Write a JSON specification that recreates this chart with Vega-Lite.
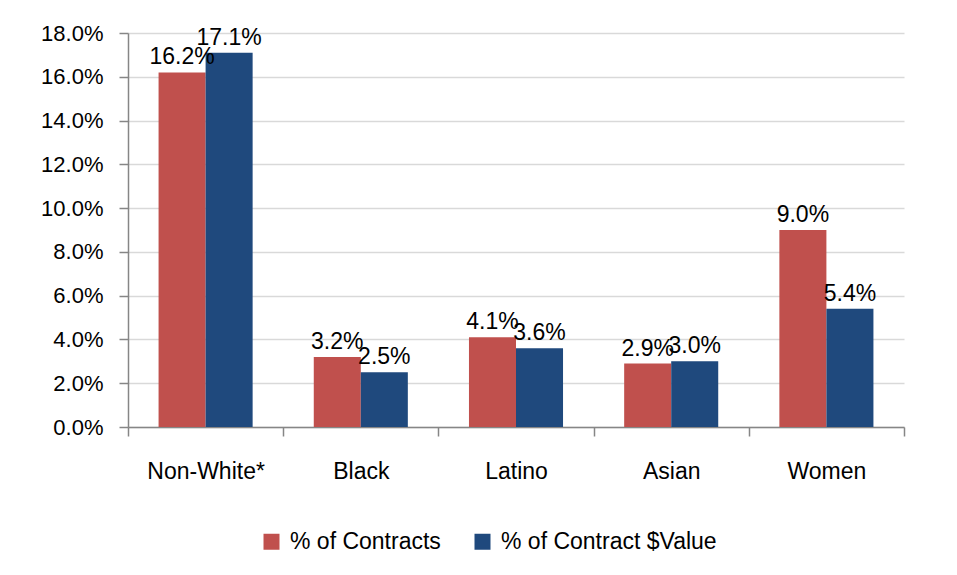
{
  "$schema": "https://vega.github.io/schema/vega-lite/v6.json",
  "width": 776,
  "height": 394,
  "autosize": {"type": "none"},
  "padding": {"left": 128, "top": 33, "right": 53, "bottom": 148},
  "background": "white",
  "config": {
    "font": "Liberation Sans",
    "view": {"stroke": null},
    "axis": {"labelFont": "Liberation Sans", "labelFontSize": 22, "labelColor": "black", "domainColor": "#868686", "tickColor": "#868686", "domainWidth": 1.5, "tickWidth": 1.5}
  },
  "data": {
    "values": [
      {"group": "Non-White*", "series": "% of Contracts", "value": 0.162},
      {"group": "Non-White*", "series": "% of Contract $Value", "value": 0.171},
      {"group": "Black", "series": "% of Contracts", "value": 0.032},
      {"group": "Black", "series": "% of Contract $Value", "value": 0.025},
      {"group": "Latino", "series": "% of Contracts", "value": 0.041},
      {"group": "Latino", "series": "% of Contract $Value", "value": 0.036},
      {"group": "Asian", "series": "% of Contracts", "value": 0.029},
      {"group": "Asian", "series": "% of Contract $Value", "value": 0.030},
      {"group": "Women", "series": "% of Contracts", "value": 0.090},
      {"group": "Women", "series": "% of Contract $Value", "value": 0.054}
    ]
  },
  "encoding": {
    "x": {
      "field": "group", "type": "nominal",
      "sort": ["Non-White*", "Black", "Latino", "Asian", "Women"],
      "scale": {"paddingInner": 0, "paddingOuter": 0},
      "axis": {"title": null, "labelAngle": 0, "tickBand": "extent", "tickSize": 9, "labelPadding": 24, "grid": false, "labelFontSize": 23}
    },
    "xOffset": {
      "field": "series", "type": "nominal",
      "sort": ["% of Contracts", "% of Contract $Value"],
      "scale": {"paddingInner": 0, "paddingOuter": 0.65}
    },
    "y": {
      "field": "value", "type": "quantitative",
      "scale": {"domain": [0, 0.18], "nice": false},
      "axis": {"title": null, "format": ".1%", "values": [0, 0.02, 0.04, 0.06, 0.08, 0.1, 0.12, 0.14, 0.16, 0.18], "gridColor": "#D9D9D9", "gridWidth": 1.5, "tickSize": 9, "labelPadding": 16}
    }
  },
  "layer": [
    {
      "mark": {"type": "bar"},
      "encoding": {
        "color": {
          "field": "series", "type": "nominal",
          "sort": ["% of Contracts", "% of Contract $Value"],
          "scale": {"domain": ["% of Contracts", "% of Contract $Value"], "range": ["#C0504D", "#1F497D"]},
          "legend": {"title": null, "orient": "none", "legendX": 132, "legendY": 497, "direction": "horizontal", "symbolType": "square", "symbolSize": 256, "symbolStrokeWidth": 0, "labelFontSize": 23, "labelColor": "black", "labelFont": "Liberation Sans", "labelLimit": 0, "labelOffset": 7, "columnPadding": 30, "symbolOffset": 0}
        }
      }
    },
    {
      "mark": {"type": "text", "baseline": "bottom", "dy": -3, "fontSize": 23, "color": "black", "font": "Liberation Sans"},
      "encoding": {
        "text": {"field": "value", "type": "quantitative", "format": ".1%"}
      }
    }
  ]
}
